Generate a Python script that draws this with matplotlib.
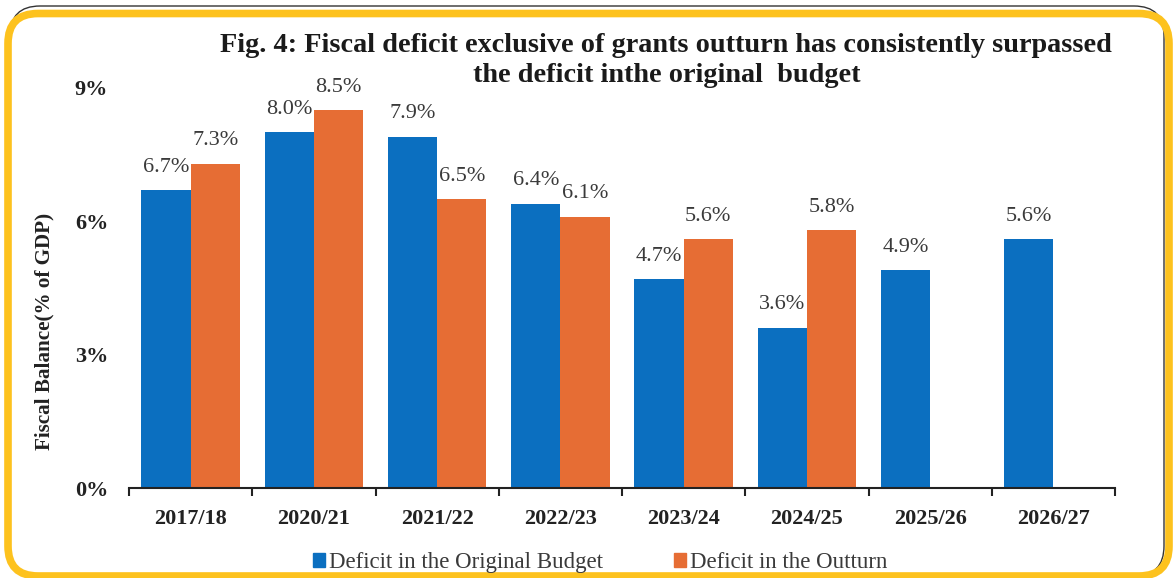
import numpy as np
import matplotlib.pyplot as plt
from matplotlib.patches import FancyBboxPatch, Patch

# données
annees = ['2017/18', '2020/21', '2021/22', '2022/23', '2023/24', '2024/25', '2025/26', '2026/27']
budget_initial = [6.7, 8.0, 7.9, 6.4, 4.7, 3.6, 4.9, 5.6]
execution = [7.3, 8.5, 6.5, 6.1, 5.6, 5.8, None, None]

bleu = '#0B6FC0'
orange = '#E66D34'
jaune = '#FDC21E'

plt.rcParams['font.family'] = ['Liberation Serif', 'DejaVu Serif']

fig = plt.figure(figsize=(11.73, 5.78), dpi=100)
ax = fig.add_axes([0.110, 0.1557, 0.8406, 0.6921])

x = np.arange(len(annees))
larg = 0.4
ax.bar(x - larg / 2, budget_initial, width=larg, color=bleu)
for xi, v in zip(x, budget_initial):
    ax.annotate(f'{v:.1f}%', (xi - larg / 2, v), xytext=(0, 23), textcoords='offset pixels',
                ha='center', va='center', fontsize=16, color='#3a3a3a')

x2 = [xi + larg / 2 for xi, v in zip(x, execution) if v is not None]
v2 = [v for v in execution if v is not None]
ax.bar(x2, v2, width=larg, color=orange)
for xi, v in zip(x2, v2):
    ax.annotate(f'{v:.1f}%', (xi, v), xytext=(0, 23), textcoords='offset pixels',
                ha='center', va='center', fontsize=16, color='#3a3a3a')

ax.set_xlim(-0.5, len(annees) - 0.5)
ax.set_ylim(0, 9)
ax.set_yticks([0, 3, 6, 9])
ax.set_yticklabels(['0%', '3%', '6%', '9%'], fontweight='bold', fontsize=16, color='#222222')
ax.tick_params(axis='y', length=0, pad=15)
ax.set_xticks(x)
ax.set_xticklabels(annees, fontweight='bold', fontsize=16, color='#222222')
ax.set_xticks(np.arange(-0.5, len(annees)), minor=True)
ax.tick_params(axis='x', which='major', length=0, pad=15)
ax.tick_params(axis='x', which='minor', length=6, width=1.5, color='#222222', direction='out')
for s in ['top', 'right', 'left']:
    ax.spines[s].set_visible(False)
ax.spines['bottom'].set_linewidth(1.5)
ax.spines['bottom'].set_color('#222222')

fig.text(0.038, 0.426, 'Fiscal Balance(% of GDP)', rotation=90, ha='center', va='center',
         fontweight='bold', fontsize=15.2, color='#222222')

# titre sur deux lignes
fig.text(0.568, 0.922, 'Fig. 4: Fiscal deficit exclusive of grants outturn has consistently surpassed',
         ha='center', va='center', fontweight='bold', fontsize=20.3, color='#1a1a1a')
fig.text(0.568, 0.870, 'the deficit inthe original  budget',
         ha='center', va='center', fontweight='bold', fontsize=20.3, color='#1a1a1a')

poignees = [Patch(color=bleu), Patch(color=orange)]
fig.legend(poignees, ['Deficit in the Original Budget', 'Deficit in the Outturn'],
           loc='center', bbox_to_anchor=(0.5115, 0.026), ncol=2, frameon=False,
           fontsize=16.5, handlelength=0.55, handleheight=0.55, handletextpad=0.15,
           columnspacing=3.1, labelcolor='#3a3a3a')

# cadre jaune arrondi
cadre_noir = FancyBboxPatch((0.10, 0.02), 11.54, 5.70, boxstyle='round,pad=0,rounding_size=0.3',
                            transform=fig.dpi_scale_trans, fill=False, edgecolor='#333333',
                            linewidth=1.0, zorder=-2)
cadre = FancyBboxPatch((0.08, 0.02), 11.61, 5.625, boxstyle='round,pad=0,rounding_size=0.3',
                       transform=fig.dpi_scale_trans, fill=False, edgecolor=jaune,
                       linewidth=5.5, zorder=-1)
fig.patches.extend([cadre_noir, cadre])

plt.savefig('out.png', dpi=100)
